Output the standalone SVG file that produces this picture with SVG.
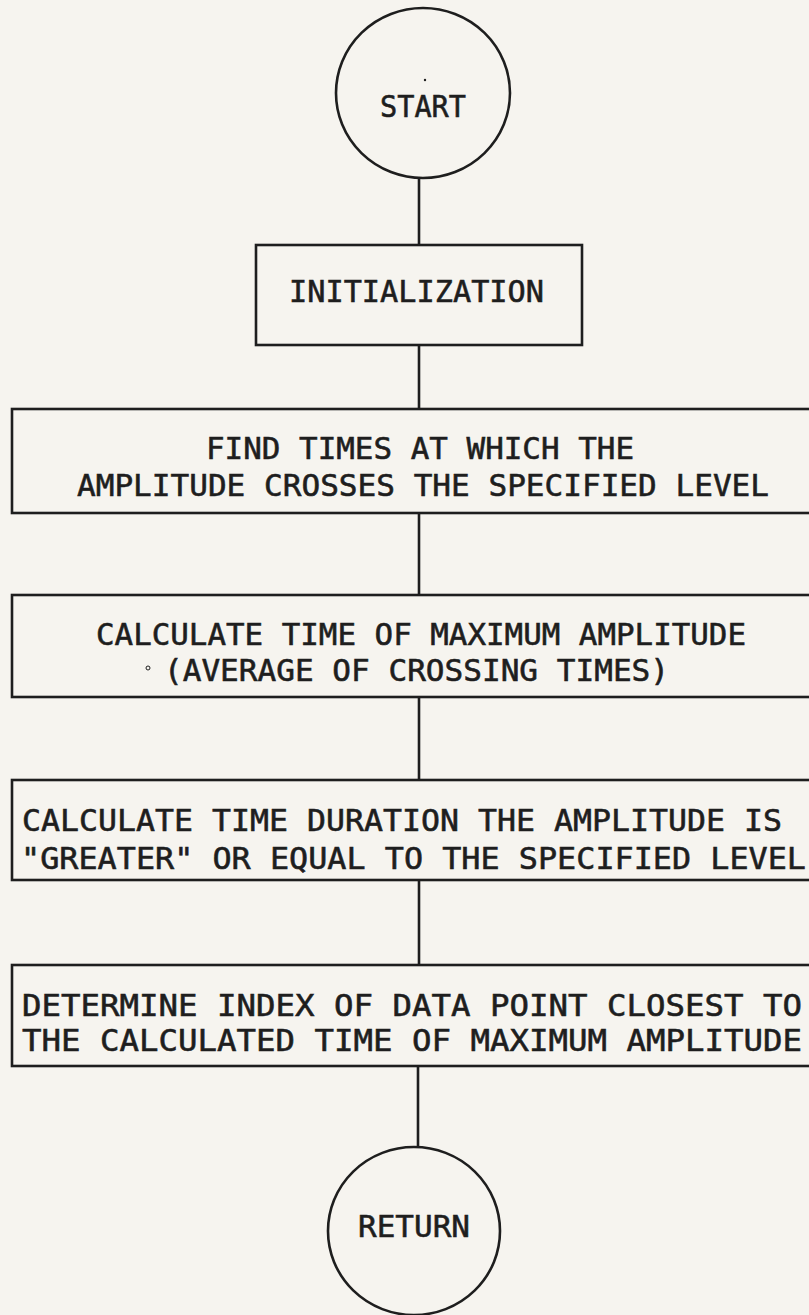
<svg xmlns="http://www.w3.org/2000/svg" width="809" height="1315" viewBox="0 0 809 1315">
<style>
.bg{fill:#f6f4ef}
.shape{fill:none;stroke:#1e1e1e;stroke-width:2.6}
.conn{stroke:#1e1e1e;stroke-width:2.6;fill:none}
.t{font-family:"DejaVu Sans Mono","Liberation Mono",monospace;font-size:31px;fill:#1e1e1e;stroke:#1e1e1e;stroke-width:0.6}
.dot{fill:#1e1e1e}
</style>
<rect class="bg" x="0" y="0" width="809" height="1315"/>
<g id="connectors">
<line class="conn" x1="419" y1="178" x2="419" y2="245"/>
<line class="conn" x1="419" y1="345" x2="419" y2="409"/>
<line class="conn" x1="419" y1="513" x2="419" y2="595"/>
<line class="conn" x1="419" y1="697" x2="419" y2="780"/>
<line class="conn" x1="419" y1="880" x2="419" y2="965"/>
<line class="conn" x1="418" y1="1066" x2="418" y2="1147"/>
</g>
<g id="start">
<ellipse class="shape" cx="423" cy="93" rx="87" ry="85"/>
<text class="t" x="380" y="117" textLength="86" lengthAdjust="spacingAndGlyphs">START</text>
<circle class="dot" cx="425" cy="80" r="1.2"/>
</g>
<g id="initialization">
<rect class="shape" x="256" y="245" width="326" height="100"/>
<text class="t" x="289" y="302" textLength="255" lengthAdjust="spacingAndGlyphs">INITIALIZATION</text>
</g>
<g id="find-times">
<rect class="shape" x="12" y="409" width="810" height="104"/>
<text class="t" x="206" y="459" textLength="428" lengthAdjust="spacingAndGlyphs">FIND TIMES AT WHICH THE</text>
<text class="t" x="77" y="496" textLength="692" lengthAdjust="spacingAndGlyphs">AMPLITUDE CROSSES THE SPECIFIED LEVEL</text>
</g>
<g id="calc-max">
<rect class="shape" x="12" y="595" width="810" height="102"/>
<text class="t" x="96" y="645" textLength="650" lengthAdjust="spacingAndGlyphs">CALCULATE TIME OF MAXIMUM AMPLITUDE</text>
<text class="t" x="164" y="681" textLength="505" lengthAdjust="spacingAndGlyphs">(AVERAGE OF CROSSING TIMES)</text>
<circle cx="148" cy="668" r="2" fill="none" stroke="#1e1e1e" stroke-width="1"/>
</g>
<g id="calc-duration">
<rect class="shape" x="12" y="780" width="810" height="100"/>
<text class="t" x="22" y="831" textLength="760" lengthAdjust="spacingAndGlyphs">CALCULATE TIME DURATION THE AMPLITUDE IS</text>
<text class="t" x="21" y="869" textLength="785" lengthAdjust="spacingAndGlyphs">"GREATER" OR EQUAL TO THE SPECIFIED LEVEL</text>
</g>
<g id="determine-index">
<rect class="shape" x="12" y="965" width="810" height="101"/>
<text class="t" x="22" y="1016" textLength="780" lengthAdjust="spacingAndGlyphs">DETERMINE INDEX OF DATA POINT CLOSEST TO</text>
<text class="t" x="22" y="1051" textLength="780" lengthAdjust="spacingAndGlyphs">THE CALCULATED TIME OF MAXIMUM AMPLITUDE</text>
</g>
<g id="return">
<ellipse class="shape" cx="414" cy="1231" rx="86" ry="84"/>
<text class="t" x="358" y="1237" textLength="112" lengthAdjust="spacingAndGlyphs">RETURN</text>
</g>
</svg>
